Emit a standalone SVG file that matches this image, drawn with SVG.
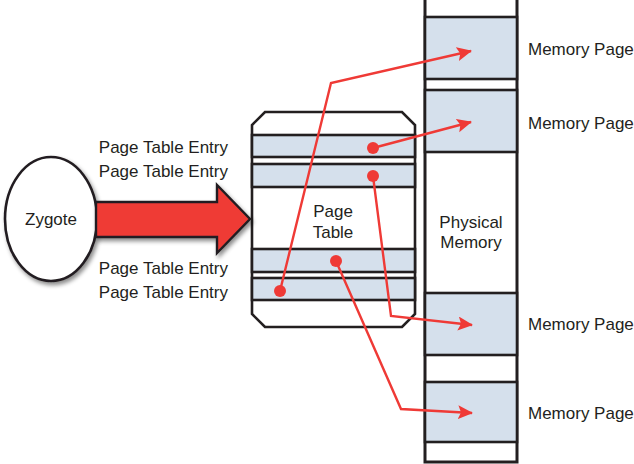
<svg xmlns="http://www.w3.org/2000/svg" width="634" height="464" viewBox="0 0 634 464">
<defs>
<style>
text{font-family:"Liberation Sans",Arial,sans-serif;font-size:17px;fill:#231f20}
.blk{fill:none;stroke:#231f20;stroke-width:2.6}
.band{fill:#d5e0ec;stroke:#231f20;stroke-width:2.6}
.red{fill:none;stroke:#ef3a36;stroke-width:2.4;stroke-linejoin:miter}
.dot{fill:#ef3a36}
</style>
<marker id="ah" markerWidth="16" markerHeight="16" refX="14" refY="7" orient="auto" markerUnits="userSpaceOnUse">
<path d="M0,0 L15,7 L0,14 L3,7 Z" fill="#ef3a36"/>
</marker>
<filter id="sh" x="-20%" y="-20%" width="150%" height="150%">
<feDropShadow dx="2" dy="3" stdDeviation="2" flood-color="#000" flood-opacity="0.45"/>
</filter>
</defs>

<g id="physical-memory">
<rect x="425" y="-3" width="92" height="465" fill="#fff" stroke="#231f20" stroke-width="3"/>
<rect x="425" y="17" width="92" height="62" class="band" stroke-width="3"/>
<rect x="425" y="90" width="92" height="62" class="band" stroke-width="3"/>
<rect x="425" y="293" width="92" height="62" class="band" stroke-width="3"/>
<rect x="425" y="382" width="92" height="60" class="band" stroke-width="3"/>
<text x="471" y="228" text-anchor="middle">Physical</text>
<text x="471" y="248" text-anchor="middle">Memory</text>
</g>

<g id="memory-page-labels">
<text x="528" y="55">Memory Page</text>
<text x="528" y="129">Memory Page</text>
<text x="528" y="330">Memory Page</text>
<text x="528" y="419">Memory Page</text>
</g>

<g id="page-table">
<path d="M265,112 L402,112 L415,125 L415,314 L402,327 L265,327 L252,314 L252,125 Z" fill="#fff" class="blk"/>
<rect x="252" y="135" width="163" height="22" class="band"/>
<rect x="252" y="164" width="163" height="23" class="band"/>
<rect x="252" y="249" width="163" height="23" class="band"/>
<rect x="252" y="278" width="163" height="22" class="band"/>
<text x="333" y="217" text-anchor="middle">Page</text>
<text x="333" y="238" text-anchor="middle">Table</text>
</g>

<g id="pte-labels">
<text x="228" y="153" text-anchor="end">Page Table Entry</text>
<text x="228" y="177" text-anchor="end">Page Table Entry</text>
<text x="228" y="274" text-anchor="end">Page Table Entry</text>
<text x="228" y="298" text-anchor="end">Page Table Entry</text>
</g>

<g id="zygote">
<ellipse cx="51" cy="219" rx="46" ry="62" fill="#fff" stroke="#231f20" stroke-width="2.6" filter="url(#sh)"/>
<text x="51" y="225" text-anchor="middle">Zygote</text>
</g>

<g id="big-arrow">
<path d="M96,202 L217,202 L217,185 L250,219 L217,253 L217,237 L96,237 Z" fill="#ef3a36" stroke="#231f20" stroke-width="2.4" stroke-linejoin="miter" filter="url(#sh)"/>
</g>

<g id="connectors">
<polyline class="red" points="280,291 331,83 471,51" marker-end="url(#ah)"/>
<polyline class="red" points="373,148 471,122" marker-end="url(#ah)"/>
<polyline class="red" points="373,176 391,316 472,325" marker-end="url(#ah)"/>
<polyline class="red" points="336,261 401,409 472,413" marker-end="url(#ah)"/>
<circle class="dot" cx="373" cy="148" r="6"/>
<circle class="dot" cx="373" cy="176" r="6"/>
<circle class="dot" cx="336" cy="261" r="6"/>
<circle class="dot" cx="280" cy="291" r="6"/>
</g>
</svg>
